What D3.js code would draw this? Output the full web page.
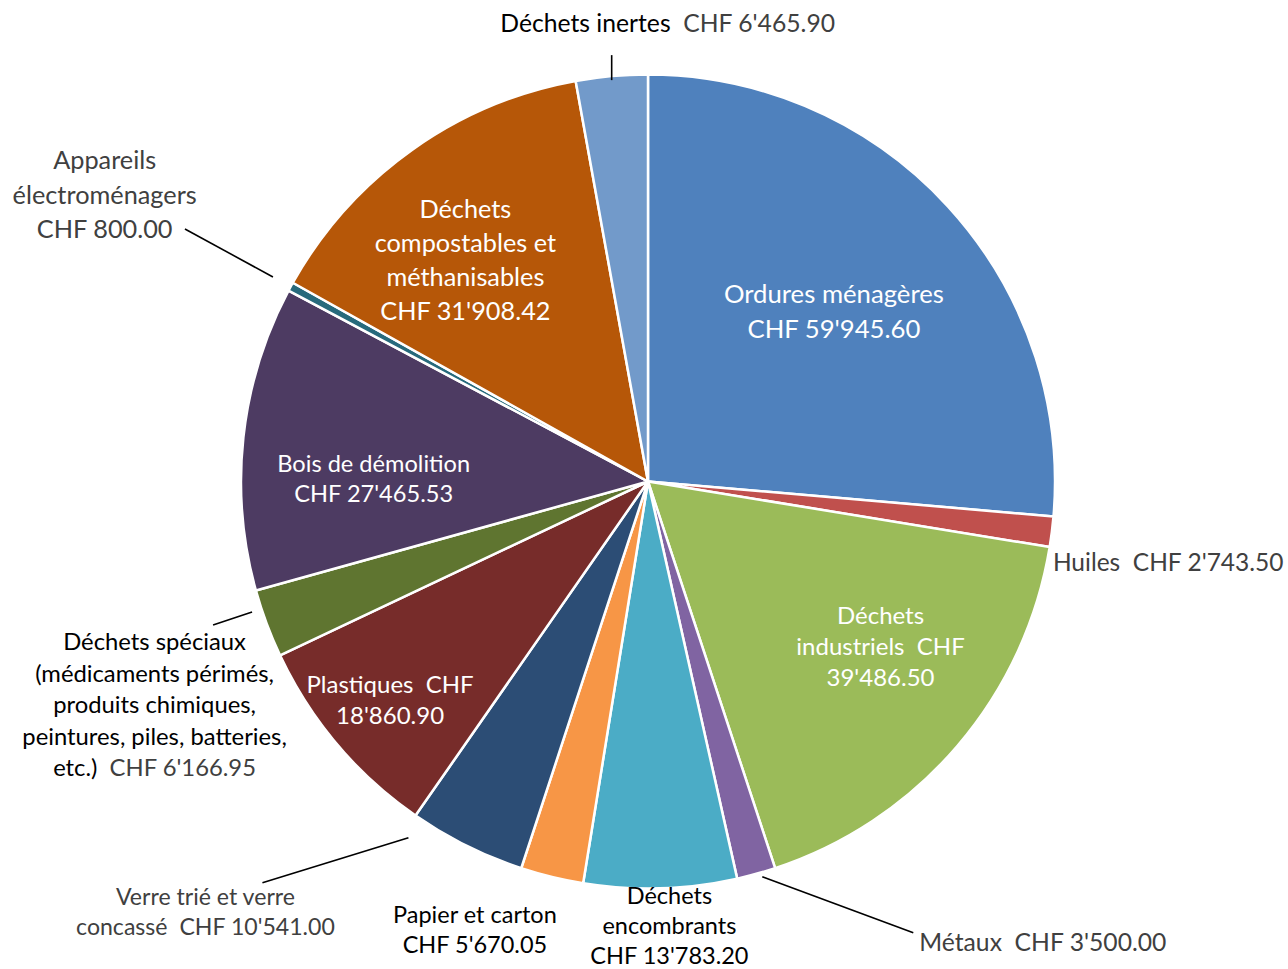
<!DOCTYPE html>
<html>
<head>
<meta charset="utf-8">
<script src="https://cdn.jsdelivr.net/npm/d3@7"></script>
<style>
  body { margin: 0; background: #fff; }
  svg text { font-family: Lato, "Open Sans", sans-serif; white-space: pre; }
</style>
</head>
<body>
<svg id="pie"></svg>
<script>
// slice order = clockwise from 12 o'clock
const categories = [
  "Ordures ménagères", "Huiles", "Déchets industriels", "Métaux",
  "Déchets encombrants", "Papier et carton", "Verre trié et verre concassé",
  "Plastiques", "Déchets spéciaux", "Bois de démolition",
  "Appareils électroménagers", "Déchets compostables et méthanisables", "Déchets inertes"
];
const amounts = [
  59945.60, 2743.50, 39486.50, 3500.00, 13783.20, 5670.05, 10541.00,
  18860.90, 6166.95, 27465.53, 800.00, 31908.42, 6465.90
];
const colors = [
  "#4F81BD", "#C0504D", "#9BBB59", "#8064A2", "#4BACC6", "#F79646", "#2C4D75",
  "#772C2A", "#5F7530", "#4D3B62", "#276A7C", "#B65708", "#729ACA"
];
// label wrapping, {chf} and {num} are the value parts
const labelLines = [
  ["Ordures ménagères", "{chf} {num}"],
  ["Huiles  {chf} {num}"],
  ["Déchets", "industriels  {chf}", "{num}"],
  ["Métaux  {chf} {num}"],
  ["Déchets", "encombrants", "{chf} {num}"],
  ["Papier et carton", "{chf} {num}"],
  ["Verre trié et verre", "concassé  {chf} {num}"],
  ["Plastiques  {chf}", "{num}"],
  ["Déchets spéciaux", "(médicaments périmés,", "produits chimiques,", "peintures, piles, batteries,", "etc.)  {chf} {num}"],
  ["Bois de démolition", "{chf} {num}"],
  ["Appareils", "électroménagers", "{chf} {num}"],
  ["Déchets", "compostables et", "méthanisables", "{chf} {num}"],
  ["Déchets inertes  {chf} {num}"]
];
// [name colour, value colour]
const labelInk = [
  ["#fff", "#fff"], ["#404040", "#404040"], ["#fff", "#fff"], ["#404040", "#404040"],
  ["#000", "#000"], ["#000", "#000"], ["#404040", "#404040"], ["#fff", "#fff"],
  ["#000", "#404040"], ["#fff", "#fff"], ["#404040", "#404040"], ["#fff", "#fff"],
  ["#000", "#404040"]
];

// label placement: point on mid angle at k*R, then nudged
const labelLayout = [
  { k: 0.62, dx: 0, dy: 0, lh: 35, fs: 25.7, anchor: "middle" },
  { k: 1, dx: 1, dy: 30, lh: 31, fs: 24.5, anchor: "start" },
  { k: 0.70, dx: 16, dy: -20, lh: 31, fs: 24, anchor: "middle" },
  { k: 1, dx: 163, dy: 68, lh: 31, fs: 24.7, anchor: "start", lead: [6, 3, 157, 59] },
  { k: 1, dx: 9, dy: 37.5, lh: 30, fs: 23.5, anchor: "middle" },
  { k: 1, dx: -77, dy: 53, lh: 30, fs: 23.5, anchor: "middle" },
  { k: 1, dx: -261, dy: 66, lh: 30, fs: 23.1, anchor: "middle", lead: [-58, -8, -204, 37] },
  { k: 0.83, dx: 0, dy: 0, lh: 31, fs: 24, anchor: "middle" },
  { k: 1, dx: -112, dy: 81, lh: 31.5, fs: 23.8, anchor: "middle", lead: [-14.5, -11.4, -53.5, 1.6] },
  { k: 0.673, dx: -2, dy: 27, lh: 30, fs: 23.6, anchor: "middle" },
  { k: 1, dx: -186, dy: -92, lh: 34.5, fs: 25.3, anchor: "middle", lead: [-17.7, -9.7, -105.7, -57.7] },
  { k: 0.705, dx: -16, dy: 12, lh: 34.3, fs: 25.3, anchor: "middle" },
  { k: 1, dx: 56, dy: -53, lh: 34, fs: 24.7, anchor: "middle", lead: [0, 4, 0, -21] }
];

const width = 1288, height = 969;
const cx = 648, cy = 481.5, R = 407;

const svg = d3.select("#pie").attr("width", width).attr("height", height);
const g = svg.append("g").attr("transform", `translate(${cx},${cy})`);

const data = categories.map((c, i) => ({ name: c, value: amounts[i], i: i }));
const pie = d3.pie().sort(null).value((d) => d.value);
const arc = d3.arc().innerRadius(0).outerRadius(R);
const arcs = pie(data);

g.selectAll("path")
  .data(arcs)
  .join("path")
  .attr("d", arc)
  .attr("fill", (d) => colors[d.data.i])
  .attr("stroke", "#fff")
  .attr("stroke-width", 2.5)
  .attr("stroke-linejoin", "round");

const fmt = (v) => d3.format(",.2f")(v).replace(/,/g, "'");

function polar(a, r) {
  return [r * Math.sin(a), -r * Math.cos(a)];
}

arcs.forEach((d) => {
  const i = d.data.i;
  const lay = labelLayout[i];
  const mid = (d.startAngle + d.endAngle) / 2;
  const [px, py] = polar(mid, lay.k * R);
  const [ox, oy] = polar(mid, R);

  if (lay.lead) {
    g.append("line")
      .attr("x1", ox + lay.lead[0])
      .attr("y1", oy + lay.lead[1])
      .attr("x2", ox + lay.lead[2])
      .attr("y2", oy + lay.lead[3])
      .attr("stroke", "#000")
      .attr("stroke-width", 1.6);
  }

  const lines = labelLines[i];
  const x = px + lay.dx;
  const y0 = py + lay.dy - ((lines.length - 1) / 2) * lay.lh;
  const num = fmt(d.data.value);

  lines.forEach((ln, j) => {
    const t = g.append("text")
      .attr("x", x)
      .attr("y", y0 + j * lay.lh)
      .attr("dy", "0.36em")
      .attr("text-anchor", lay.anchor)
      .style("font-size", lay.fs + "px");
    const parts = ln.split(/(\{chf\}|\{num\})/).filter((s) => s !== "");
    parts.forEach((p) => {
      const isVal = p === "{chf}" || p === "{num}";
      t.append("tspan")
        .attr("fill", isVal ? labelInk[i][1] : labelInk[i][0])
        .text(p === "{chf}" ? "CHF" : p === "{num}" ? num : p);
    });
  });
});
</script>
</body>
</html>
